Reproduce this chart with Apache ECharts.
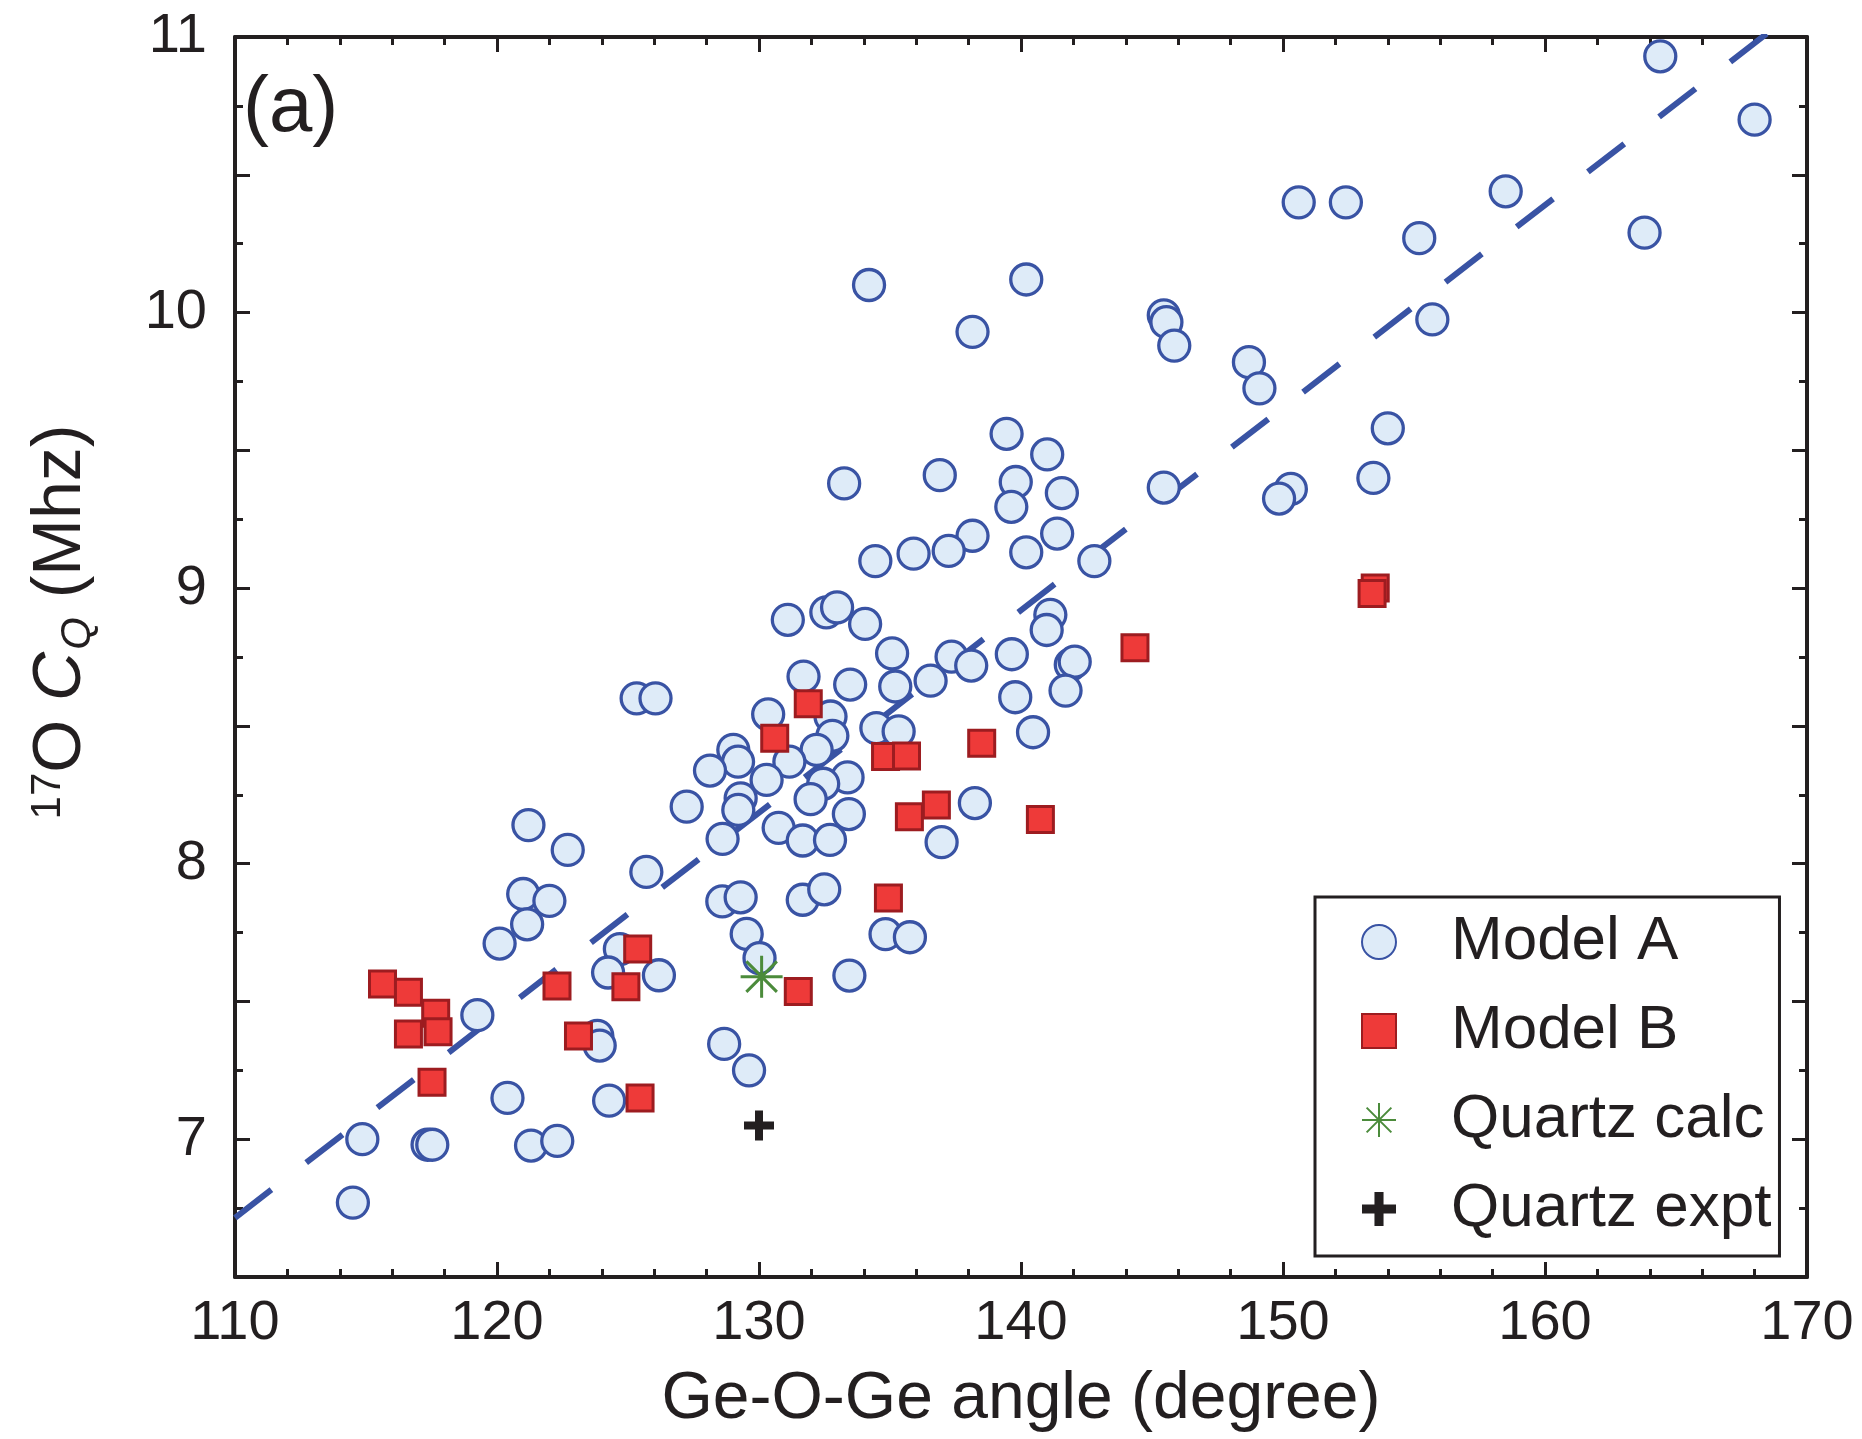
<!DOCTYPE html>
<html>
<head>
<meta charset="utf-8">
<script src="https://cdn.jsdelivr.net/npm/echarts@6/dist/echarts.min.js"></script>
<style>
  html, body { margin: 0; padding: 0; background: #fff; }
  #main { width: 1862px; height: 1439px; }
</style>
</head>
<body>
<div id="main"></div>
<script>
// Data: [Ge-O-Ge angle, 17O CQ]
var modelA = [
  [164.4, 10.93], [168.0, 10.70], [163.8, 10.29], [150.6, 10.40], [152.4, 10.40], [158.5, 10.44],
  [155.2, 10.27], [155.7, 9.975], [134.2, 10.10], [140.2, 10.12], [138.15, 9.93], [145.45, 9.99],
  [145.55, 9.965], [145.85, 9.88], [148.7, 9.82], [149.1, 9.725], [154.0, 9.58], [139.45, 9.56],
  [141.0, 9.485], [136.9, 9.41], [133.25, 9.38], [139.8, 9.385], [141.56, 9.345], [145.45, 9.365],
  [150.3, 9.36], [149.85, 9.325], [153.45, 9.40], [139.63, 9.295], [141.38, 9.198], [138.15, 9.19],
  [135.9, 9.125], [137.24, 9.135], [140.2, 9.13], [134.44, 9.098], [142.8, 9.098],
  [131.1, 8.885], [132.57, 8.912], [132.98, 8.93], [134.05, 8.87], [141.12, 8.903], [140.98, 8.848],
  [135.08, 8.763], [137.35, 8.751], [139.65, 8.76], [136.55, 8.664], [138.1, 8.719], [141.9, 8.722],
  [142.05, 8.733], [131.7, 8.679], [133.48, 8.65], [135.2, 8.643], [141.7, 8.628], [125.33, 8.60],
  [126.05, 8.60], [139.78, 8.604], [130.35, 8.542], [132.73, 8.534], [134.48, 8.492], [135.33, 8.48],
  [140.46, 8.477], [132.8, 8.464], [129.02, 8.413], [129.2, 8.37], [128.13, 8.338], [132.2, 8.413],
  [131.16, 8.37], [133.38, 8.313], [130.29, 8.304], [132.45, 8.29], [129.3, 8.237], [131.97, 8.234],
  [127.24, 8.207], [129.21, 8.195], [133.43, 8.18], [130.75, 8.13], [128.61, 8.09], [131.67, 8.084],
  [132.71, 8.086], [138.24, 8.22], [136.97, 8.078],
  [121.2, 8.14], [122.7, 8.05], [125.7, 7.97], [121.0, 7.89], [122.0, 7.865], [121.15, 7.78],
  [120.1, 7.71], [128.6, 7.863], [129.3, 7.878], [131.67, 7.869], [132.49, 7.907], [129.53, 7.745],
  [134.83, 7.744], [135.76, 7.733], [130.02, 7.657], [124.69, 7.69], [126.18, 7.595], [124.24, 7.605],
  [133.45, 7.594], [119.25, 7.45], [123.83, 7.375], [123.92, 7.34], [128.67, 7.346], [129.62, 7.25],
  [120.4, 7.15], [124.28, 7.14], [114.86, 7.0], [117.35, 6.98], [117.53, 6.98], [121.3, 6.977],
  [122.3, 6.994], [114.5, 6.77]
];

var modelB = [
  [115.63, 7.563], [116.62, 7.533], [117.66, 7.457], [116.62, 7.382], [117.75, 7.39], [117.52, 7.207],
  [122.29, 7.556], [123.11, 7.375], [124.92, 7.553], [125.37, 7.69], [125.46, 7.15], [130.6, 8.455],
  [131.88, 8.58], [131.5, 7.536], [134.83, 8.389], [135.63, 8.391], [134.94, 7.875], [135.74, 8.17],
  [136.77, 8.213], [138.5, 8.437], [140.74, 8.16], [144.35, 8.784], [153.52, 9.0], [153.4, 8.98]
];

var quartzCalc = [[130.1, 7.59]];
var quartzExpt = [[130.0, 7.05]];

// dashed trend line, end points
var fitLine = [[110, 6.715], [170, 11.125]];

var legendNames = ['Model A', 'Model B', 'Quartz calc', 'Quartz expt'];

var FONT = 'Liberation Sans, Arial, Helvetica, sans-serif';
var INK = '#231f20';
var BLUE = '#3953a4';

var myChart = echarts.init(document.getElementById('main'));

var starPath = 'path://M0,22H44M22,0V44M6,6L38,38M38,6L6,38';
var plusPath = 'path://M11,0H19V11H30V19H19V30H11V19H0V11H11Z';

function axisCommon(extra) {
  var base = {
    axisLine: { show: true, onZero: false, lineStyle: { color: INK, width: 4 } },
    axisTick: { show: true, inside: true, length: 15, lineStyle: { color: INK, width: 3 } },
    minorTick: { show: true, length: 8, lineStyle: { color: INK, width: 3 } },
    splitLine: { show: false },
    axisLabel: {
      color: INK, fontFamily: FONT, fontSize: 56
    }
  };
  return Object.assign(base, extra);
}

var option = {
  animation: false,
  backgroundColor: '#ffffff',
  grid: { left: 235, right: 55, top: 37, bottom: 162, containLabel: false },
  xAxis: [
    axisCommon({
      type: 'value', min: 110, max: 170, interval: 10, position: 'bottom',
      minorTick: { show: true, splitNumber: 5, length: 8, lineStyle: { color: INK, width: 3 } },
      axisLabel: { color: INK, fontFamily: FONT, fontSize: 56, margin: 19 },
      name: 'Ge-O-Ge angle (degree)', nameLocation: 'middle', nameGap: 90,
      nameTextStyle: { color: INK, fontFamily: FONT, fontSize: 66 }
    }),
    axisCommon({
      type: 'value', min: 110, max: 170, interval: 10, position: 'top',
      minorTick: { show: true, splitNumber: 5, length: 8, lineStyle: { color: INK, width: 3 } },
      axisLabel: { show: false }
    })
  ],
  yAxis: [
    axisCommon({
      type: 'value', min: 6.5, max: 11, interval: 0.5, position: 'left',
      minorTick: { show: true, splitNumber: 2, length: 8, lineStyle: { color: INK, width: 3 } },
      axisLabel: {
        color: INK, fontFamily: FONT, fontSize: 56, margin: 28,
        formatter: function (v) { return Math.abs(v - Math.round(v)) < 1e-6 ? String(Math.round(v)) : ''; }
      },
      name: '{sup|17}{n|O }{it|C}{sub|Q}{n| (Mhz)}',
      nameLocation: 'middle', nameGap: 136,
      nameTextStyle: {
        color: INK, fontFamily: FONT, fontSize: 68, lineHeight: 76,
        padding: [0, 0, 0, 70],
        rich: {
          n: { fontFamily: FONT, fontSize: 68, color: INK, lineHeight: 76, verticalAlign: 'middle' },
          it: { fontFamily: FONT, fontSize: 68, color: INK, fontStyle: 'italic', lineHeight: 76, verticalAlign: 'middle' },
          sup: { fontFamily: FONT, fontSize: 42, color: INK, lineHeight: 76, verticalAlign: 'top', padding: [4, 0, 0, 0] },
          sub: { fontFamily: FONT, fontSize: 42, color: INK, fontStyle: 'italic', lineHeight: 76, verticalAlign: 'bottom', padding: [0, 0, 0, 2] }
        }
      }
    }),
    axisCommon({
      type: 'value', min: 6.5, max: 11, interval: 0.5, position: 'right',
      minorTick: { show: true, splitNumber: 2, length: 8, lineStyle: { color: INK, width: 3 } },
      axisLabel: { show: false }
    })
  ],
  legend: {
    data: legendNames,
    orient: 'vertical',
    left: 1315, top: 897,
    padding: [14, 8, 16, 46],
    itemGap: 27,
    itemWidth: 34, itemHeight: 34,
    borderColor: INK, borderWidth: 3, backgroundColor: '#ffffff',
    textStyle: { color: INK, fontFamily: FONT, fontSize: 62, lineHeight: 62, padding: [0, 0, 0, 50] },
    selectedMode: false
  },
  graphic: [
    {
      type: 'text', left: 243, top: 70, z: 100,
      style: { text: '(a)', fill: INK, font: '78px ' + FONT }
    }
  ],
  series: [
    {
      name: 'fit', type: 'line', data: fitLine, symbol: 'none', clip: true, silent: true,
      lineStyle: { color: BLUE, width: 6, type: [46, 44], dashOffset: 0, cap: 'butt' },
      z: 1
    },
    {
      name: 'Model A', type: 'scatter', data: modelA, symbol: 'circle', symbolSize: 31,
      itemStyle: { color: '#deebf8', borderColor: BLUE, borderWidth: 3.3, opacity: 1 },
      z: 2
    },
    {
      name: 'Model B', type: 'scatter', data: modelB, symbol: 'rect', symbolSize: 26,
      itemStyle: { color: '#ee3a39', borderColor: '#9d1c20', borderWidth: 3, opacity: 1 },
      z: 3
    },
    {
      name: 'Quartz calc', type: 'scatter', data: quartzCalc, symbol: starPath, symbolSize: 42,
      itemStyle: { color: 'rgba(0,0,0,0)', borderColor: '#4b8b3b', borderWidth: 3, opacity: 1 },
      z: 4
    },
    {
      name: 'Quartz expt', type: 'scatter', data: quartzExpt, symbol: plusPath, symbolSize: 30,
      itemStyle: { color: INK, opacity: 1 },
      z: 5
    }
  ]
};

myChart.setOption(option);
window.addEventListener('resize', function () { myChart.resize(); });
</script>
</body>
</html>
